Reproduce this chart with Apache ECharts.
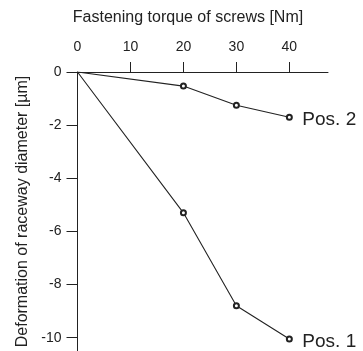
<!DOCTYPE html>
<html>
<head>
<meta charset="utf-8">
<script src="https://cdn.jsdelivr.net/npm/echarts@6/dist/echarts.min.js"></script>
<style>
  html, body { margin: 0; padding: 0; background: #fff; }
  #chart { width: 363px; height: 351px; }
</style>
</head>
<body>
<div id="chart"></div>
<script>
const torque = [0, 20, 30, 40];
const pos1 = [0, -5.3, -8.8, -10.05];
const pos2 = [0, -0.53, -1.25, -1.7];
const seriesNames = ["Pos. 1", "Pos. 2"];
const xTicks = [0, 10, 20, 30, 40];
const xTickMarks = [10, 20, 30, 40];
const yTicks = [0, -2, -4, -6, -8, -10];

const ink = "#222";
const font = '"Liberation Sans", Arial, sans-serif';

function line(name, values) {
  return {
    name,
    type: "line",
    // the origin has no marker in the source figure
    data: torque.map((t, i) => (t === 0 ? { value: [t, values[i]], symbol: "none" } : [t, values[i]])),
    symbol: "emptyCircle",
    symbolSize: 5,
    showAllSymbol: true,
    lineStyle: { color: ink, width: 1.1 },
    itemStyle: { color: ink, borderWidth: 0.8 },
    endLabel: {
      show: true,
      formatter: name,
      color: ink,
      fontFamily: font,
      fontSize: 19,
      distance: 13,
      offset: [0, 3],
    },
  };
}

const chart = echarts.init(document.getElementById("chart"));
chart.setOption({
  backgroundColor: "#fff",
  animation: false,
  grid: { left: 77.5, top: 72, width: 250.5, height: 279.5, containLabel: false },
  graphic: [{
    type: "text",
    x: 188,
    y: 18,
    style: {
      text: "Fastening torque of screws [Nm]",
      fill: ink,
      font: "16px " + font,
      textAlign: "center",
      textVerticalAlign: "middle",
    },
  }],
  xAxis: {
    type: "value",
    position: "top",
    min: 0,
    max: 47.3,
    axisLine: { show: true, onZero: false, lineStyle: { color: ink, width: 1 } },
    axisTick: { show: true, length: 10, customValues: xTickMarks, lineStyle: { color: ink } },
    axisLabel: { customValues: xTicks, color: ink, fontFamily: font, fontSize: 14, margin: 18 },
    splitLine: { show: false },
  },
  yAxis: {
    type: "value",
    min: -10.5,
    max: 0,
    name: "Deformation of raceway diameter [µm]",
    nameLocation: "middle",
    nameGap: 37,
    nameTextStyle: { color: ink, fontFamily: font, fontSize: 16 },
    axisLine: { show: true, onZero: false, lineStyle: { color: ink, width: 1 } },
    axisTick: { show: true, length: 11, customValues: yTicks, lineStyle: { color: ink } },
    axisLabel: { customValues: yTicks, color: ink, fontFamily: font, fontSize: 14, margin: 16 },
    splitLine: { show: false },
  },
  series: [line(seriesNames[0], pos1), line(seriesNames[1], pos2)],
});
</script>
</body>
</html>
